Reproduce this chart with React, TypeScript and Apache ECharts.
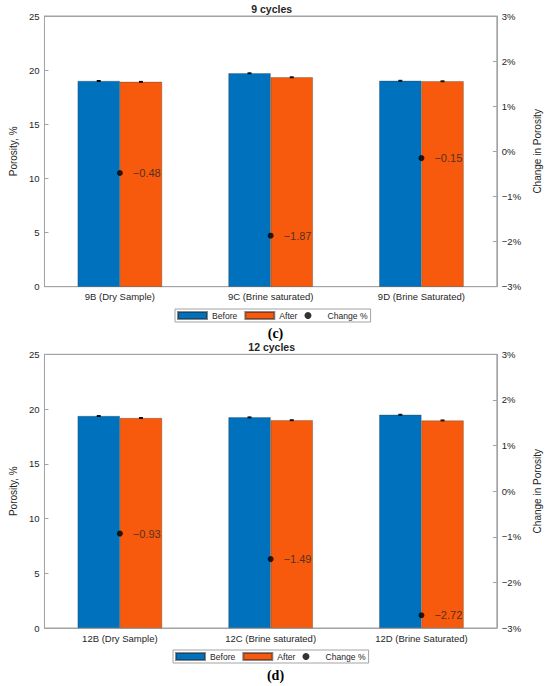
import React, { useEffect, useRef } from "react";
import * as echarts from "echarts";

const categories9 = ["9B (Dry Sample)", "9C (Brine saturated)", "9D (Brine Saturated)"];
const before9 = [19.0, 19.71, 19.02];
const after9 = [18.92, 19.34, 18.97];
const change9 = [-0.48, -1.87, -0.15];
const errBefore9 = [0.04, 0.04, 0.04];
const errAfter9 = [0.04, 0.04, 0.04];

const categories12 = ["12B (Dry Sample)", "12C (Brine saturated)", "12D (Brine Saturated)"];
const before12 = [19.36, 19.24, 19.48];
const after12 = [19.18, 18.98, 18.96];
const change12 = [-0.93, -1.49, -2.72];
const errBefore12 = [0.04, 0.04, 0.04];
const errAfter12 = [0.04, 0.04, 0.04];

const leftTicks = { min: 0, max: 25, interval: 5 };
const rightTicks = { min: -3, max: 3, interval: 1 };
const titles = ["9 cycles", "12 cycles"];
const panelLabels = ["(c)", "(d)"];

const BLUE = "#0072BD";
const ORANGE = "#F75A0C";
const AXIS = "#a3a3a3";
const TXT = "#262626";
const FONT = "'Liberation Sans', Arial, sans-serif";

const fmtPct = (v: number) => (v < 0 ? "\u2212" + Math.abs(v) : String(v)) + "%";
const fmtChange = (v: number) => (v < 0 ? "\u2212" : "") + Math.abs(v).toFixed(2);

export default function App() {
  const ref = useRef<HTMLDivElement>(null);
  useEffect(() => {
    document.body.style.margin = "0";
    const chart = echarts.init(ref.current!, null, { renderer: "svg" });

    const grids = [
      { left: 35.7, top: 16, width: 471, height: 270.7 },
      { left: 33.3, top: 354.3, width: 474.7, height: 273.7 },
    ];
    const sets = [
      { cats: categories9, b: before9, a: after9, c: change9, eb: errBefore9, ea: errAfter9 },
      { cats: categories12, b: before12, a: after12, c: change12, eb: errBefore12, ea: errAfter12 },
    ];

    const xAxis: any[] = [];
    const yAxis: any[] = [];
    const series: any[] = [];

    const errRender = (params: any, api: any) => {
      const cat = api.value(0);
      const val = api.value(1);
      const err = api.value(2);
      const side = api.value(3);
      const c = api.coord([cat, val]);
      const bw = api.size([1, 0])[0];
      const x = c[0] + side * 0.14 * bw;
      const top = api.coord([cat, val + err])[1];
      const bot = api.coord([cat, val - err])[1];
      const st = { stroke: "#000", lineWidth: 1 };
      return {
        type: "group",
        children: [
          { type: "line", shape: { x1: x, y1: top, x2: x, y2: bot }, style: st },
          { type: "line", shape: { x1: x - 2, y1: top, x2: x + 2, y2: top }, style: st },
          { type: "line", shape: { x1: x - 2, y1: bot, x2: x + 2, y2: bot }, style: st },
        ],
      };
    };

    sets.forEach((s, g) => {
      xAxis.push({
        type: "category",
        gridIndex: g,
        data: s.cats,
        position: "bottom",
        axisLine: { onZero: false, lineStyle: { color: AXIS } },
        axisTick: { inside: true, length: 4, alignWithLabel: true, lineStyle: { color: "#222" } },
        axisLabel: { color: TXT, fontSize: 9.5, fontFamily: FONT, margin: 5 },
      });
      xAxis.push({
        type: "category",
        gridIndex: g,
        data: s.cats,
        position: "top",
        axisLine: { onZero: false, lineStyle: { color: AXIS } },
        axisTick: { inside: true, length: 4, alignWithLabel: true, lineStyle: { color: AXIS } },
        axisLabel: { show: false },
      });
      yAxis.push({
        type: "value",
        gridIndex: g,
        position: "left",
        ...leftTicks,
        name: "Porosity, %",
        nameLocation: "middle",
        nameRotate: 90,
        nameGap: 17,
        nameTextStyle: { color: TXT, fontSize: 10, fontFamily: FONT },
        axisLine: { show: true, onZero: false, lineStyle: { color: AXIS } },
        axisTick: { show: true, inside: true, length: 4, lineStyle: { color: AXIS } },
        axisLabel: { color: TXT, fontSize: 9.5, fontFamily: FONT, margin: 5 },
        splitLine: { show: false },
      });
      yAxis.push({
        type: "value",
        gridIndex: g,
        position: "right",
        ...rightTicks,
        name: "Change in Porosity",
        nameLocation: "middle",
        nameRotate: 90,
        nameGap: 27,
        nameTextStyle: { color: TXT, fontSize: 10, fontFamily: FONT },
        axisLine: { show: true, onZero: false, lineStyle: { color: AXIS } },
        axisTick: { show: true, inside: true, length: 4, lineStyle: { color: AXIS } },
        axisLabel: { color: TXT, fontSize: 9.5, fontFamily: FONT, margin: 5, formatter: fmtPct },
        splitLine: { show: false },
      });
      const xi = g * 2;
      const yl = g * 2;
      const yr = g * 2 + 1;
      series.push({
        type: "bar",
        name: "Before",
        xAxisIndex: xi,
        yAxisIndex: yl,
        data: s.b,
        barWidth: "28%",
        barGap: "0%",
        itemStyle: { color: BLUE, borderColor: "rgba(40,40,40,0.55)", borderWidth: 0.5 },
      });
      series.push({
        type: "bar",
        name: "After",
        xAxisIndex: xi,
        yAxisIndex: yl,
        data: s.a,
        barWidth: "28%",
        barGap: "0%",
        itemStyle: { color: ORANGE, borderColor: "rgba(40,40,40,0.55)", borderWidth: 0.5 },
      });
      series.push({
        type: "custom",
        name: "errors",
        xAxisIndex: xi,
        yAxisIndex: yl,
        renderItem: errRender,
        encode: { x: 0, y: 1 },
        z: 5,
        data: [
          ...s.b.map((v, i) => [i, v, s.eb[i], -1]),
          ...s.a.map((v, i) => [i, v, s.ea[i], 1]),
        ],
      });
      series.push({
        type: "scatter",
        name: "Change %",
        xAxisIndex: xi,
        yAxisIndex: yr,
        data: s.c,
        symbol: "circle",
        symbolSize: 6,
        z: 6,
        itemStyle: { color: "#000" },
        label: {
          show: true,
          position: "right",
          distance: 10,
          color: TXT,
          fontSize: 11,
          fontFamily: FONT,
          formatter: (p: any) => fmtChange(p.value),
        },
      });
    });

    const legendCommon = {
      data: [
        { name: "Before", icon: "rect" },
        { name: "After", icon: "rect" },
        { name: "Change %", icon: "circle" },
      ],
      orient: "horizontal",
      itemWidth: 29,
      itemHeight: 7,
      itemGap: 7,
      padding: [2, 3, 2, 2],
      borderColor: AXIS,
      borderWidth: 1,
      backgroundColor: "#fff",
      selectedMode: false,
      textStyle: { color: TXT, fontSize: 8.6, fontFamily: FONT },
    };

    chart.setOption({
      animation: false,
      grid: grids.map((gr) => ({
        ...gr,
        containLabel: false,
        show: true,
        borderColor: AXIS,
        borderWidth: 1,
        backgroundColor: "transparent",
      })),
      xAxis,
      yAxis,
      series,
      legend: [
        { ...legendCommon, left: 175, top: 309 },
        { ...legendCommon, left: 173, top: 650 },
      ],
      graphic: [
        {
          type: "text",
          x: 271.7,
          y: 9,
          style: { text: titles[0], fill: TXT, font: `bold 10.5px ${FONT}`, align: "center", verticalAlign: "middle" },
        },
        {
          type: "text",
          x: 271.7,
          y: 346.5,
          style: { text: titles[1], fill: TXT, font: `bold 10.5px ${FONT}`, align: "center", verticalAlign: "middle" },
        },
        {
          type: "text",
          x: 275.5,
          y: 333,
          style: { text: panelLabels[0], fill: "#000", font: `bold 14px 'Liberation Serif', serif`, align: "center", verticalAlign: "middle" },
        },
        {
          type: "text",
          x: 275.5,
          y: 675,
          style: { text: panelLabels[1], fill: "#000", font: `bold 14px 'Liberation Serif', serif`, align: "center", verticalAlign: "middle" },
        },
      ],
    });
    return () => chart.dispose();
  }, []);
  return <div ref={ref} style={{ width: 550, height: 686 }} />;
}
